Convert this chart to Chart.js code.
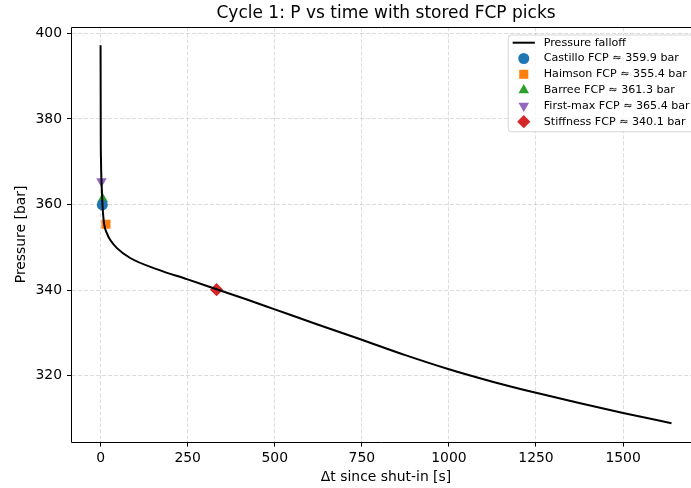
<!DOCTYPE html>
<html>
<head>
<meta charset="utf-8">
<script src="https://cdn.jsdelivr.net/npm/chart.js@4/dist/chart.umd.min.js"></script>
<style>
  html, body { margin: 0; padding: 0; background: #fff; overflow: hidden; }
  canvas { display: block; width: 691px; height: 488px; }
</style>
</head>
<body>
<canvas id="chart" width="691" height="488"></canvas>
<script>
// Pressure falloff after shut-in (cycle 1)
const timeS = [0, 0.3, 0.6, 1.2, 2.4, 3.7, 5.4, 10, 18, 27, 47, 85, 161, 250, 333, 420, 500, 625, 750, 875, 1000, 1125, 1250, 1374, 1500, 1639];
const pressureBar = [397.2, 386.0, 375.3, 370.5, 366.0, 363.5, 360.0, 355.6, 353.3, 351.8, 349.8, 347.5, 344.9, 342.5, 340.2, 337.8, 335.5, 331.9, 328.4, 324.8, 321.5, 318.6, 316.0, 313.6, 311.3, 308.9];

// Stored fracture-closure-pressure picks
const pickNames = ['Castillo', 'Haimson', 'Barree', 'First-max', 'Stiffness'];
const pickTimes = [5.0, 15.5, 6.0, 2.6, 333];
const pickPressures = [359.9, 355.4, 361.3, 365.4, 340.1];

// Axis ticks and ranges
const xTickValues = [0, 250, 500, 750, 1000, 1250, 1500];
const yTickValues = [320, 340, 360, 380, 400];
const xRange = [-82, 1721];     // full axes span; the canvas shows up to X_VISIBLE_MAX
const X_VISIBLE_MAX = 1695;
const yRange = [304.6, 401.4];

// Text
const chartTitle = 'Cycle 1: P vs time with stored FCP picks';
const xAxisTitle = 'Δt since shut-in [s]';
const yAxisTitle = 'Pressure [bar]';

// Marker styling for the picks
const pickColors = ['#1f77b4', '#ff7f0e', '#2ca02c', '#9467bd', '#d62728'];
const pickShapes = ['circle', 'rect', 'triangle', 'triangle', 'rectRot'];
const pickRotations = [0, 0, 0, 180, 0];
const pickRadii = [5.5, 6.4, 6.1, 6.1, 6.6];

const FONT = 'DejaVu Sans';
Chart.defaults.font.family = FONT;
Chart.defaults.color = '#000';

const datasets = [{
  label: 'Pressure falloff',
  data: timeS.map((t, i) => ({ x: t, y: pressureBar[i] })),
  showLine: true,
  borderColor: '#000',
  borderWidth: 2,
  pointRadius: 0,
  pointHoverRadius: 0,
  cubicInterpolationMode: 'monotone',
  fill: false
}];
pickNames.forEach((name, i) => {
  datasets.push({
    label: `${name} FCP ≈ ${pickPressures[i].toFixed(1)} bar`,
    data: [{ x: pickTimes[i], y: pickPressures[i] }],
    showLine: false,
    pointStyle: pickShapes[i],
    pointRotation: pickRotations[i],
    pointRadius: pickRadii[i],
    pointHoverRadius: pickRadii[i],
    pointBackgroundColor: pickColors[i],
    pointBorderColor: pickColors[i],
    pointBorderWidth: 0
  });
});

// Spines (left, top, bottom) plus the title and x-axis label, centred on the full axes span
const framePlugin = {
  id: 'frame',
  afterDatasetsDraw(chart) {
    const { ctx, chartArea: a, scales: { x } } = chart;
    ctx.save();
    ctx.setLineDash([]);
    ctx.strokeStyle = '#000';
    ctx.lineWidth = 1;
    const l = Math.round(a.left) - 0.5, t = Math.round(a.top) + 0.5, b = Math.round(a.bottom) + 0.5;
    ctx.beginPath();
    ctx.moveTo(a.right + 2, t); ctx.lineTo(l, t); ctx.lineTo(l, b); ctx.lineTo(a.right + 2, b);
    ctx.stroke();

    const cx = x.getPixelForValue((xRange[0] + xRange[1]) / 2);
    ctx.fillStyle = '#000';
    ctx.textAlign = 'center';
    ctx.textBaseline = 'middle';
    ctx.font = `17px "${FONT}"`;
    ctx.fillText(chartTitle, cx, 13.5);
    ctx.font = `13.9px "${FONT}"`;
    ctx.fillText(xAxisTitle, cx, 477.7);
    ctx.restore();
  }
};

// Boxed legend in the upper-right corner of the plot
const boxLegendPlugin = {
  id: 'boxLegend',
  afterDraw(chart) {
    const { ctx, chartArea: a, scales: { x } } = chart;
    const fs = 11.1;
    const pad = 4.4, handleLen = 22.2, textPad = 8.9, rowH = 15.8;
    ctx.save();
    ctx.setLineDash([]);
    ctx.font = `${fs}px "${FONT}"`;
    const labels = chart.data.datasets.map(d => d.label);
    const maxW = Math.max(...labels.map(l => ctx.measureText(l).width));
    const boxW = pad + handleLen + textPad + maxW + pad;
    const boxH = 96.7;
    const right = x.getPixelForValue(xRange[1]) - 6;
    const left = right - boxW;
    const top = a.top + 7.7;

    ctx.beginPath();
    ctx.roundRect(left, top, boxW, boxH, 3);
    ctx.fillStyle = 'rgba(255,255,255,0.8)';
    ctx.fill();
    ctx.strokeStyle = 'rgba(204,204,204,0.8)';
    ctx.lineWidth = 1;
    ctx.stroke();

    const hx0 = left + pad, hx1 = hx0 + handleLen, hc = (hx0 + hx1) / 2;
    const tx = hx1 + textPad;
    chart.data.datasets.forEach((d, i) => {
      const y = top + 7.7 + i * rowH;
      if (d.showLine) {
        ctx.beginPath();
        ctx.moveTo(hx0, y);
        ctx.lineTo(hx1, y);
        ctx.strokeStyle = d.borderColor;
        ctx.lineWidth = d.borderWidth;
        ctx.stroke();
      } else {
        ctx.fillStyle = d.pointBackgroundColor;
        ctx.strokeStyle = d.pointBorderColor;
        Chart.helpers.drawPoint(ctx, {
          pointStyle: d.pointStyle,
          rotation: d.pointRotation,
          radius: d.pointRadius,
          borderWidth: 0
        }, hc, y);
      }
      ctx.fillStyle = '#000';
      ctx.textBaseline = 'middle';
      ctx.textAlign = 'left';
      ctx.fillText(d.label, tx, y);
    });
    ctx.restore();
  }
};

const gridStyle = {
  color: 'rgba(176,176,176,0.55)',
  lineWidth: 0.8,
  drawTicks: true,
  tickLength: 5,
  tickColor: '#000',
  tickWidth: 1,
  tickBorderDash: []
};
// grid lines take their dash pattern from the border options; the spines themselves are drawn by framePlugin
const borderStyle = { display: false, dash: [4, 2] };

new Chart(document.getElementById('chart'), {
  type: 'scatter',
  data: { datasets },
  options: {
    responsive: false,
    animation: false,
    events: [],
    layout: { autoPadding: false, padding: { left: 0, right: 0, top: 27.3, bottom: 0 } },
    plugins: {
      legend: { display: false },
      tooltip: { enabled: false },
      title: { display: false }
    },
    scales: {
      x: {
        type: 'linear',
        min: xRange[0],
        max: X_VISIBLE_MAX,
        afterBuildTicks(scale) { scale.ticks = xTickValues.map(v => ({ value: v })); },
        afterFit(scale) {
          scale.height = 46.4;
          scale.paddingLeft = 0;
          scale.paddingRight = 0;
        },
        grid: gridStyle,
        border: borderStyle,
        ticks: { color: '#000', font: { family: FONT, size: 13.9 }, padding: 3, maxRotation: 0, callback: v => String(v) },
        title: { display: false }
      },
      y: {
        type: 'linear',
        min: yRange[0],
        max: yRange[1],
        afterBuildTicks(scale) { scale.ticks = yTickValues.map(v => ({ value: v })); },
        afterFit(scale) {
          scale.width = 72;
          scale.paddingTop = 0;
          scale.paddingBottom = 0;
        },
        grid: gridStyle,
        border: borderStyle,
        ticks: { color: '#000', font: { family: FONT, size: 13.9 }, padding: 5, callback: v => String(v) },
        title: { display: true, text: yAxisTitle, color: '#000', font: { family: FONT, size: 13.9 }, padding: { top: 12.7, bottom: 0 } }
      }
    }
  },
  plugins: [framePlugin, boxLegendPlugin]
});
</script>
</body>
</html>
